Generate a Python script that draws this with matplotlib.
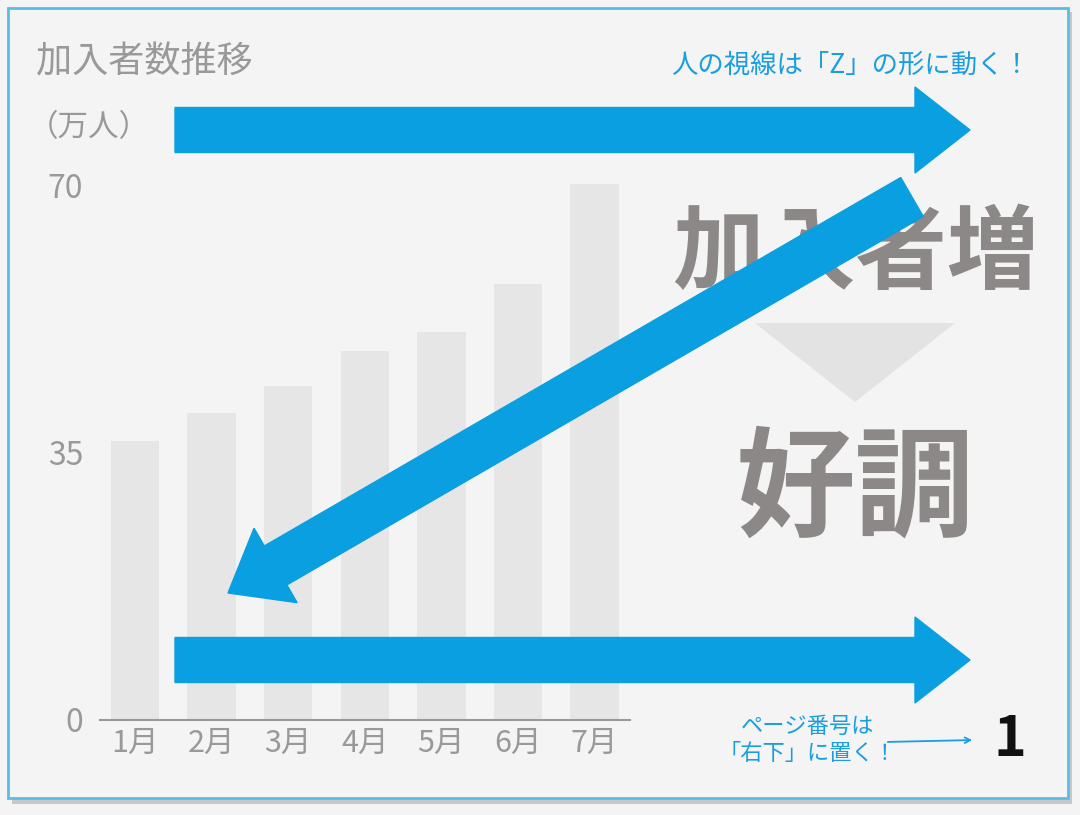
import matplotlib
matplotlib.use("Agg")
import matplotlib.pyplot as plt
from matplotlib.patches import FancyArrow, Polygon, Rectangle

plt.rcParams['font.family'] = ['Noto Sans CJK JP', 'DejaVu Sans']

months = ["1月", "2月", "3月", "4月", "5月", "6月", "7月"]
members = [36.5, 40.2, 43.7, 48.3, 50.8, 57.1, 70.2]
yticks = [0, 35, 70]

W, H = 1080, 815
fig = plt.figure(figsize=(W/100, H/100), dpi=100)
fig.patch.set_facecolor("#f4f4f4")

ov = fig.add_axes([0, 0, 1, 1], zorder=0)
ov.set_xlim(0, W); ov.set_ylim(H, 0); ov.axis("off")
ov.add_patch(Rectangle((12, 12), 1060, 792, facecolor="#c8c8c8", edgecolor="none"))
ov.add_patch(Rectangle((8, 8), 1060, 790, facecolor="#f4f4f4", edgecolor="#5bbde6", lw=2))

spacing = 76.6
ymax = 75
ax = fig.add_axes([100/W, (H-720)/H, 530/W, ymax*7.64/H], zorder=1)
ax.set_facecolor("none")
ax.bar(range(len(months)), members, width=0.63, color="#e6e6e6")
ax.set_xlim(-35/spacing, 495/spacing)
ax.set_ylim(0, ymax)
for s in ["top", "right", "left"]:
    ax.spines[s].set_visible(False)
ax.spines["bottom"].set_color("#999999"); ax.spines["bottom"].set_linewidth(1.5)
ax.set_xticks(range(len(months)))
ax.set_xticklabels(months, fontsize=22, color="#999999")
ax.set_yticks(yticks)
ax.set_yticklabels([str(v) for v in yticks], fontsize=23, color="#999999")
ax.tick_params(length=0, pad=6)
ax.tick_params(axis="y", pad=12)

top = fig.add_axes([0, 0, 1, 1], zorder=2)
top.set_xlim(0, W); top.set_ylim(H, 0); top.axis("off"); top.set_facecolor("none")
gray = "#8c8888"
top.text(36, 62, "加入者数推移", fontsize=26, color="#999999", va="center")
top.text(28, 128, "（万人）", fontsize=22, color="#999999", va="center")
top.text(855, 255, "加入者増", fontsize=66, color=gray, weight="bold", ha="center", va="center", zorder=1)
top.add_patch(Polygon([(755, 323), (955, 323), (855, 402)], facecolor="#e3e3e3", edgecolor="none", zorder=1))
top.text(855, 492, "好調", fontsize=86, color=gray, weight="bold", ha="center", va="center", zorder=1)

blue = "#0a9fe0"
def arr(x0, y0, x1, y1):
    top.add_patch(FancyArrow(x0, y0, x1-x0, y1-y0, width=45, head_width=86, head_length=55,
                             length_includes_head=True, color=blue, zorder=3))
arr(175, 130, 970, 130)
arr(912, 197, 228, 593)
arr(175, 660, 970, 660)

top.text(1030, 65, "人の視線は「Z」の形に動く！", fontsize=19, color="#1a9ee0", ha="right", va="center")
top.text(808, 740, "ページ番号は\n「右下」に置く！", fontsize=16, color="#1a9ee0", ha="center", va="center", linespacing=1.25)
top.annotate("", xy=(975, 740), xytext=(885, 742),
             arrowprops=dict(arrowstyle="->", color="#1a9ee0", lw=1.3))
top.text(1010, 740, "1", fontsize=40, weight="bold", color="#111111", ha="center", va="center")

fig.savefig("out.png", dpi=100, facecolor=fig.get_facecolor())
